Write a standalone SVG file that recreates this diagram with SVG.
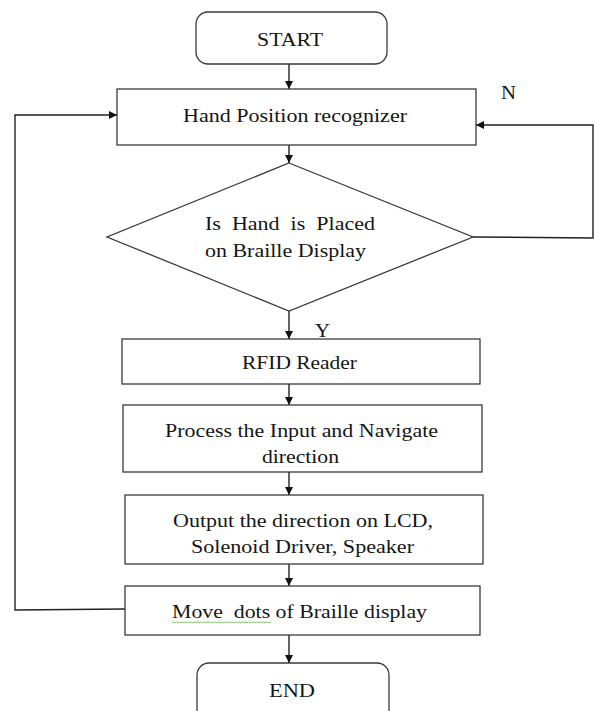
<svg xmlns="http://www.w3.org/2000/svg" width="595" height="711" viewBox="0 0 595 711">
<style>
.box{fill:#fff;stroke:#3a3a3a;stroke-width:1.3}
.con{fill:none;stroke:#222;stroke-width:1.4}
.t{font-family:"Liberation Serif","Times New Roman",serif;font-size:18px;fill:#151515}
</style>
<defs>
<marker id="ah" markerUnits="userSpaceOnUse" markerWidth="8" markerHeight="8" refX="8" refY="4" orient="auto">
<path d="M0,0 L8,4 L0,8 z" fill="#111"/>
</marker>
</defs>
<rect width="595" height="711" fill="#fff"/>
<g id="connectors">
<path class="con" d="M289,64 V89" marker-end="url(#ah)"/>
<path class="con" d="M289,145 V163" marker-end="url(#ah)"/>
<path class="con" d="M289,311 V339" marker-end="url(#ah)"/>
<path class="con" d="M289,384 V405" marker-end="url(#ah)"/>
<path class="con" d="M289,472 V495" marker-end="url(#ah)"/>
<path class="con" d="M289,564 V586" marker-end="url(#ah)"/>
<path class="con" d="M289,635 V663" marker-end="url(#ah)"/>
<path class="con" d="M473,237 L593,238 V125 H476" marker-end="url(#ah)"/>
<path class="con" d="M125,609 L15,610 V115 H117" marker-end="url(#ah)"/>
<text class="t" x="501" y="99" textLength="15" lengthAdjust="spacingAndGlyphs">N</text>
<text class="t" x="315" y="337" textLength="15" lengthAdjust="spacingAndGlyphs">Y</text>
</g>
<g id="start">
<rect class="box" x="196" y="12" width="191" height="52" rx="12"/>
<text class="t" x="257" y="46" textLength="66" lengthAdjust="spacingAndGlyphs">START</text>
</g>
<g id="hand-position">
<rect class="box" x="117" y="89" width="359" height="56"/>
<text class="t" x="183" y="122" textLength="224" lengthAdjust="spacingAndGlyphs">Hand Position recognizer</text>
</g>
<g id="decision">
<polygon class="box" points="289,163 473,237 289,311 107,237"/>
<text class="t" x="205" y="230" textLength="170" lengthAdjust="spacingAndGlyphs" xml:space="preserve">Is  Hand  is  Placed</text>
<text class="t" x="205" y="257" textLength="161" lengthAdjust="spacingAndGlyphs">on Braille Display</text>
</g>
<g id="rfid">
<rect class="box" x="122" y="339" width="358" height="45"/>
<text class="t" x="242" y="369" textLength="115" lengthAdjust="spacingAndGlyphs">RFID Reader</text>
</g>
<g id="process">
<rect class="box" x="123" y="405" width="359" height="67"/>
<text class="t" x="165" y="437" textLength="273" lengthAdjust="spacingAndGlyphs">Process the Input and Navigate</text>
<text class="t" x="262" y="463" textLength="77" lengthAdjust="spacingAndGlyphs">direction</text>
</g>
<g id="output">
<rect class="box" x="125" y="495" width="358" height="69"/>
<text class="t" x="173" y="527" textLength="260" lengthAdjust="spacingAndGlyphs">Output the direction on LCD,</text>
<text class="t" x="191" y="553" textLength="223" lengthAdjust="spacingAndGlyphs">Solenoid Driver, Speaker</text>
</g>
<g id="move">
<rect class="box" x="125" y="586" width="355" height="49"/>
<text class="t" x="172" y="618" textLength="255" lengthAdjust="spacingAndGlyphs" xml:space="preserve">Move  dots of Braille display</text>
<path d="M172,623 l1.5,-1.2 l1.5,1.2 l1.5,-1.2 l1.5,1.2 l1.5,-1.2 l1.5,1.2 l1.5,-1.2 l1.5,1.2 l1.5,-1.2 l1.5,1.2 l1.5,-1.2 l1.5,1.2 l1.5,-1.2 l1.5,1.2 l1.5,-1.2 l1.5,1.2 l1.5,-1.2 l1.5,1.2 l1.5,-1.2 l1.5,1.2 l1.5,-1.2 l1.5,1.2 l1.5,-1.2 l1.5,1.2 l1.5,-1.2 l1.5,1.2 l1.5,-1.2 l1.5,1.2 l1.5,-1.2 l1.5,1.2 l1.5,-1.2 l1.5,1.2 l1.5,-1.2 l1.5,1.2 l1.5,-1.2 l1.5,1.2 l1.5,-1.2 l1.5,1.2 l1.5,-1.2 l1.5,1.2 l1.5,-1.2 l1.5,1.2 l1.5,-1.2 l1.5,1.2 l1.5,-1.2 l1.5,1.2 l1.5,-1.2 l1.5,1.2 l1.5,-1.2 l1.5,1.2 l1.5,-1.2 l1.5,1.2 l1.5,-1.2 l1.5,1.2 l1.5,-1.2 l1.5,1.2 l1.5,-1.2 l1.5,1.2 l1.5,-1.2 l1.5,1.2 l1.5,-1.2 l1.5,1.2 l1.5,-1.2 l1.5,1.2 l1.5,-1.2 l1.5,1.2" fill="none" stroke="#5fb84a" stroke-width="0.8"/>
</g>
<g id="end">
<rect class="box" x="197" y="663" width="192" height="60" rx="12"/>
<text class="t" x="269" y="697" textLength="46" lengthAdjust="spacingAndGlyphs">END</text>
</g>
</svg>
